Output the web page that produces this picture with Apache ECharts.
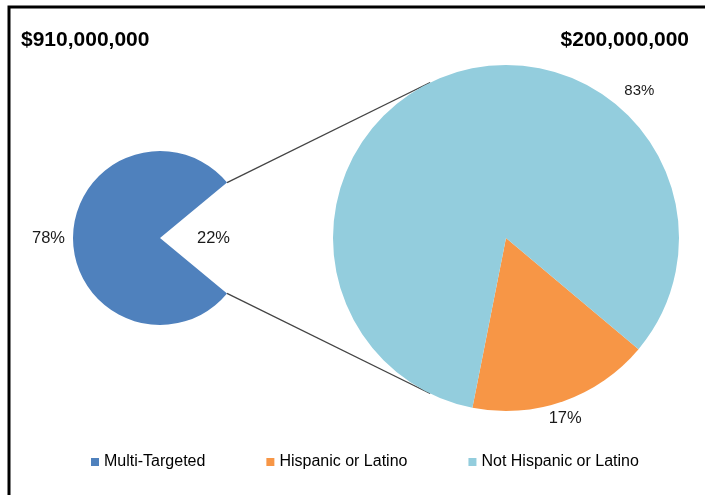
<!DOCTYPE html>
<html><head><meta charset="utf-8">
<script src="https://cdn.jsdelivr.net/npm/echarts@6/dist/echarts.min.js"></script>
<style>html,body{margin:0;padding:0;background:#fff}#c{width:705px;height:495px}</style>
</head><body><div id="c"></div>
<script>
// ---- data ----
const categories = ['Multi-Targeted', 'Hispanic or Latino', 'Not Hispanic or Latino'];
const totals = ['$910,000,000', '$200,000,000'];
const primaryNames = ['Multi-Targeted', 'Split'];
const primaryValues = [78, 22];
const secondaryNames = ['Hispanic or Latino', 'Not Hispanic or Latino'];
const secondaryValues = [17, 83];
const colors = ['#4F81BD', '#F79646', '#93CDDD'];

// ---- layout ----
const L = {cx: 160, cy: 238, r: 87};
const R = {cx: 506, cy: 238, r: 173};
const rad = d => d * Math.PI / 180;
const gapHalf = primaryValues[1] / 100 * 360 / 2;
const connectorAngle = 116;
const FONT = 'Liberation Sans, Arial, sans-serif';

function polar(c, ang, dist) {
  return [c.cx + dist * Math.cos(rad(ang)), c.cy - dist * Math.sin(rad(ang))];
}

const leftLabelPos = [
  {ang: 180, dist: L.r + 8, align: 'right', size: 16.5},
  {ang: 0, dist: L.r * 0.615, align: 'center', size: 16.5}
];
const rightLabelPos = [
  {ang: -71.8, dist: R.r * 1.095, align: 'center', size: 16.5},
  {ang: 47.9, dist: R.r * 1.15, align: 'center', size: 15}
];

function mkData(names, values, posArr, colorFn) {
  return names.map((n, i) => ({
    name: n, value: values[i],
    itemStyle: {color: colorFn(i)},
    label: {fontSize: posArr[i].size}
  }));
}

const labelStyle = {show: true, position: 'outside', formatter: '{c}%', fontFamily: FONT, fontSize: 16, color: '#1a1a1a'};

const p1 = polar(L, gapHalf, L.r), p2 = polar(R, connectorAngle, R.r);
const q1 = polar(L, -gapHalf, L.r), q2 = polar(R, -connectorAngle, R.r);

const chart = echarts.init(document.getElementById('c'), null, {renderer: 'canvas'});
chart.setOption({
  animation: false,
  backgroundColor: '#fff',
  title: [
    {text: totals[0], left: 21, top: 30, padding: 0, textStyle: {fontFamily: FONT, fontWeight: 'bold', fontSize: 21, color: '#000'}},
    {text: totals[1], right: 16, top: 30, padding: 0, textStyle: {fontFamily: FONT, fontWeight: 'bold', fontSize: 21, color: '#000'}}
  ],
  legend: {
    data: categories, left: 91, top: 454, padding: 0, itemWidth: 8, itemHeight: 8, itemGap: 61,
    icon: 'rect', selectedMode: false,
    textStyle: {fontFamily: FONT, fontSize: 16, color: '#000'}
  },
  graphic: [
    {type: 'line', shape: {x1: p1[0], y1: p1[1], x2: p2[0], y2: p2[1]}, style: {stroke: '#444', lineWidth: 1.3}, silent: true},
    {type: 'line', shape: {x1: q1[0], y1: q1[1], x2: q2[0], y2: q2[1]}, style: {stroke: '#444', lineWidth: 1.3}, silent: true},
    {type: 'rect', shape: {x: 9, y: 7, width: 900, height: 900}, style: {fill: 'none', stroke: '#000', lineWidth: 3}, silent: true, z: 100}
  ],
  series: [
    {
      type: 'pie', center: [L.cx, L.cy], radius: L.r, startAngle: 360 - gapHalf, clockwise: true,
      avoidLabelOverlap: false, silent: true,
      label: labelStyle, labelLine: {show: false},
      labelLayout: p => { const s = leftLabelPos[p.dataIndex]; const xy = polar(L, s.ang, s.dist); return {x: xy[0], y: xy[1], align: s.align, verticalAlign: 'middle'}; },
      data: mkData(primaryNames, primaryValues, leftLabelPos, i => i === 0 ? colors[0] : 'rgba(0,0,0,0)')
    },
    {
      type: 'pie', center: [R.cx, R.cy], radius: R.r, startAngle: 320, clockwise: true,
      avoidLabelOverlap: false, silent: true,
      label: labelStyle, labelLine: {show: false},
      labelLayout: p => { const s = rightLabelPos[p.dataIndex]; const xy = polar(R, s.ang, s.dist); return {x: xy[0], y: xy[1], align: s.align, verticalAlign: 'middle'}; },
      data: mkData(secondaryNames, secondaryValues, rightLabelPos, i => colors[i + 1])
    }
  ]
});
</script></body></html>
